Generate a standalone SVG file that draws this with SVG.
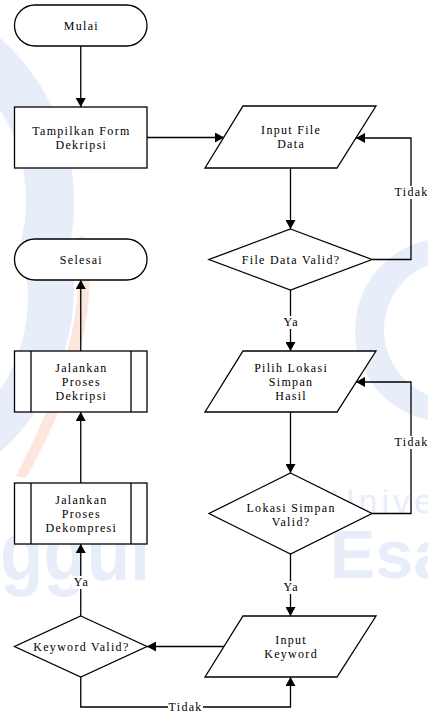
<svg xmlns="http://www.w3.org/2000/svg" width="428" height="713" viewBox="0 0 428 713">
  <style>
    .shape { fill: #ffffff; stroke: #000000; stroke-width: 1.3; }
    .line { fill: none; stroke: #000000; stroke-width: 1.3; }
    .txt { font-family: "Liberation Serif", "Times New Roman", serif; font-size: 12px; letter-spacing: 1.3px; fill: #000000; text-anchor: middle; }
    .lblbg { fill: #ffffff; stroke: none; }
    .wm { fill: #e7eefa; }
    .wmo { fill: #fce7df; }
    .wmt { font-family: "Liberation Sans", Arial, sans-serif; fill: #e7eefa; }
  </style>
  <defs>
    <marker id="arrow" markerUnits="userSpaceOnUse" markerWidth="10" markerHeight="10" refX="9" refY="5" orient="auto">
      <path d="M0,0 L9,5 L0,10 z" fill="#000000"/>
    </marker>
  </defs>

  <rect x="0" y="0" width="428" height="713" fill="#ffffff"/>

  <g id="watermark">
    <path class="wm" d="M0,38 A220,220 0 0 1 70,245 A220,220 0 0 1 0,452 L0,390 A170,170 0 0 0 20,245 A170,170 0 0 0 0,110 Z"/>
    <path class="wmo" d="M84,236 Q108,330 26,478 L16,476 Q92,330 76,238 Z"/>
    <path class="wm" d="M428,240 A92,92 0 0 0 428,420 L428,395 A70,70 0 0 1 428,265 Z"/>
    <text class="wmt" x="0" y="580" font-size="82" font-weight="bold" textLength="150" lengthAdjust="spacingAndGlyphs">ggul</text>
    <text class="wmt" x="330" y="578" font-size="68" font-weight="bold">Esa</text>
    <text class="wmt" x="330" y="513" font-size="34" letter-spacing="4" fill="#eaf0f9">Unive</text>
  </g>

  <g id="connectors">
    <path class="line" d="M80.75,46 V107" marker-end="url(#arrow)"/>
    <path class="line" d="M147,137.5 H224" marker-end="url(#arrow)"/>
    <path class="line" d="M290.5,168 V229" marker-end="url(#arrow)"/>
    <path class="line" d="M372,259.5 H411 V138 H356" marker-end="url(#arrow)"/>
    <path class="line" d="M290.5,290 V351" marker-end="url(#arrow)"/>
    <path class="line" d="M290.5,412 V473" marker-end="url(#arrow)"/>
    <path class="line" d="M372,513.5 H411 V382 H356" marker-end="url(#arrow)"/>
    <path class="line" d="M290.5,554 V616" marker-end="url(#arrow)"/>
    <path class="line" d="M224,646.5 H147" marker-end="url(#arrow)"/>
    <path class="line" d="M80.75,677 V707 H290.5 V677" marker-end="url(#arrow)"/>
    <path class="line" d="M80.75,616 V544" marker-end="url(#arrow)"/>
    <path class="line" d="M80.75,483 V412" marker-end="url(#arrow)"/>
    <path class="line" d="M80.75,351 V280" marker-end="url(#arrow)"/>

    <rect class="lblbg" x="394" y="186" width="34" height="13"/>
    <text class="txt" x="411.6" y="196">Tidak</text>
    <rect class="lblbg" x="282" y="316" width="18" height="13"/>
    <text class="txt" x="291.1" y="326">Ya</text>
    <rect class="lblbg" x="394" y="436" width="34" height="13"/>
    <text class="txt" x="411.6" y="446">Tidak</text>
    <rect class="lblbg" x="282" y="581" width="18" height="13"/>
    <text class="txt" x="291.1" y="591">Ya</text>
    <rect class="lblbg" x="72" y="576" width="18" height="13"/>
    <text class="txt" x="81.4" y="586">Ya</text>
    <rect class="lblbg" x="168" y="701" width="35" height="12"/>
    <text class="txt" x="185.6" y="711">Tidak</text>
  </g>

  <g id="mulai">
    <rect class="shape" x="14.5" y="5" width="132.5" height="41" rx="20.5" ry="20.5"/>
    <text class="txt" x="81.4" y="29.5">Mulai</text>
  </g>

  <g id="tampilkan-form">
    <rect class="shape" x="14.5" y="107" width="132.5" height="61"/>
    <text class="txt" x="81.4" y="134.5">Tampilkan Form</text>
    <text class="txt" x="81.4" y="148.5">Dekripsi</text>
  </g>

  <g id="input-file-data">
    <polygon class="shape" points="243,106 376,106 337,168 205,168"/>
    <text class="txt" x="291.1" y="134">Input File</text>
    <text class="txt" x="291.1" y="148">Data</text>
  </g>

  <g id="file-data-valid">
    <polygon class="shape" points="290.5,229 372,259.5 290.5,290 209,259.5"/>
    <text class="txt" x="291.1" y="263.5">File Data Valid?</text>
  </g>

  <g id="selesai">
    <rect class="shape" x="14.5" y="239" width="132.5" height="41" rx="20.5" ry="20.5"/>
    <text class="txt" x="81.4" y="263.5">Selesai</text>
  </g>

  <g id="proses-dekripsi">
    <rect class="shape" x="14.5" y="351" width="132.5" height="61"/>
    <line class="line" x1="31" y1="351" x2="31" y2="412"/>
    <line class="line" x1="131" y1="351" x2="131" y2="412"/>
    <text class="txt" x="81.4" y="371.5">Jalankan</text>
    <text class="txt" x="81.4" y="385.5">Proses</text>
    <text class="txt" x="81.4" y="399.5">Dekripsi</text>
  </g>

  <g id="pilih-lokasi">
    <polygon class="shape" points="243,351 376,351 337,412 205,412"/>
    <text class="txt" x="291.1" y="371.5">Pilih Lokasi</text>
    <text class="txt" x="291.1" y="385.5">Simpan</text>
    <text class="txt" x="291.1" y="399.5">Hasil</text>
  </g>

  <g id="lokasi-valid">
    <polygon class="shape" points="290.5,473 372,513.5 290.5,554 209,513.5"/>
    <text class="txt" x="291.1" y="512">Lokasi Simpan</text>
    <text class="txt" x="291.1" y="526">Valid?</text>
  </g>

  <g id="proses-dekompresi">
    <rect class="shape" x="14.5" y="483" width="132.5" height="61"/>
    <line class="line" x1="31" y1="483" x2="31" y2="544"/>
    <line class="line" x1="131" y1="483" x2="131" y2="544"/>
    <text class="txt" x="81.4" y="503.5">Jalankan</text>
    <text class="txt" x="81.4" y="517.5">Proses</text>
    <text class="txt" x="81.4" y="531.5">Dekompresi</text>
  </g>

  <g id="input-keyword">
    <polygon class="shape" points="243,616 376,616 337,677 205,677"/>
    <text class="txt" x="291.1" y="643.5">Input</text>
    <text class="txt" x="291.1" y="657.5">Keyword</text>
  </g>

  <g id="keyword-valid">
    <polygon class="shape" points="80.75,616 147,646.5 80.75,677 14.5,646.5"/>
    <text class="txt" x="81.4" y="650.5">Keyword Valid?</text>
  </g>
</svg>
